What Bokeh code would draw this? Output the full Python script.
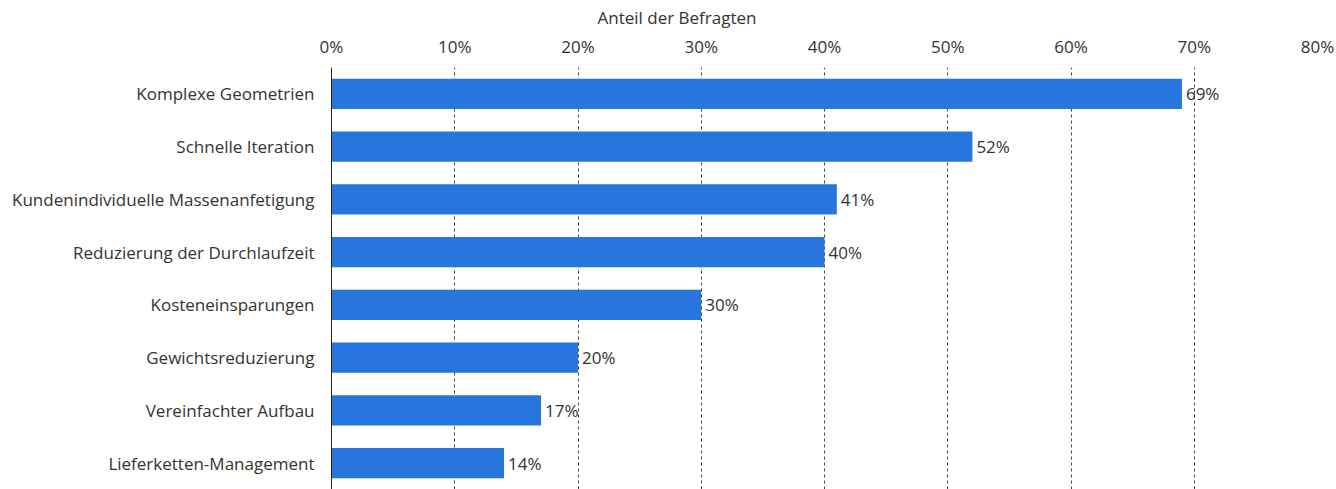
from bokeh.plotting import figure
from bokeh.models import FactorRange, Range1d, FixedTicker, LinearAxis, ColumnDataSource
from bokeh.core.properties import value
from bokeh.embed import file_html
from bokeh.resources import INLINE

categories = ["Komplexe Geometrien", "Schnelle Iteration", "Kundenindividuelle Massenanfetigung",
              "Reduzierung der Durchlaufzeit", "Kosteneinsparungen", "Gewichtsreduzierung",
              "Vereinfachter Aufbau", "Lieferketten-Management"]
values = [69, 52, 41, 40, 30, 20, 17, 14]
tick_values = [0, 10, 20, 30, 40, 50, 60, 70, 80]
tick_labels = ["0%", "10%", "20%", "30%", "40%", "50%", "60%", "70%", "80%"]
axis_title = "Anteil der Befragten"

FONT = "Open Sans"
TXT = "#333333"
BAR = "#2876dd"
FS = "17px"

src = ColumnDataSource(dict(cat=categories, val=values, lab=[f"{v}%" for v in values]))

p = figure(width=1336, height=489, output_backend="svg", toolbar_location=None,
           y_range=FactorRange(factors=list(reversed(categories))),
           x_range=Range1d(0, 80), x_axis_location=None,
           title=axis_title,
           min_border_left=331, min_border_right=19, min_border_top=0, min_border_bottom=0)
p.outline_line_color = None
p.background_fill_color = "white"
p.border_fill_color = "white"

p.title.text_font = FONT
p.title.text_font_size = FS
p.title.text_font_style = "normal"
p.title.text_color = TXT
p.title.align = "left"
p.title.offset = 266
p.title.standoff = 6

p.hbar(y="cat", right="val", left=0, height=0.57, source=src, fill_color=BAR, line_color=None)
p.text(x="val", y="cat", text="lab", source=src, x_offset=4, text_align="left",
       text_baseline="middle", text_font=value(FONT), text_font_size=FS, text_color=TXT)

ax = LinearAxis()
ax.ticker = FixedTicker(ticks=tick_values)
ax.major_label_overrides = {t: l for t, l in zip(tick_values, tick_labels)}
ax.axis_line_color = None
ax.major_tick_line_color = None
ax.minor_tick_line_color = None
ax.major_label_standoff = 4
ax.major_label_text_font = FONT
ax.major_label_text_font_size = FS
ax.major_label_text_color = TXT
p.add_layout(ax, "above")

p.xgrid.ticker = FixedTicker(ticks=tick_values)
p.xgrid.grid_line_color = "#444444"
p.xgrid.grid_line_dash = "3 3"
p.xgrid.grid_line_width = 1
p.ygrid.grid_line_color = None

ya = p.yaxis[0]
ya.axis_line_color = "#222222"
ya.axis_line_width = 1
ya.major_tick_line_color = None
ya.minor_tick_line_color = None
ya.major_label_standoff = 11
ya.major_label_text_font = FONT
ya.major_label_text_font_size = FS
ya.major_label_text_color = TXT

open("out.html", "w").write(file_html(p, INLINE))
